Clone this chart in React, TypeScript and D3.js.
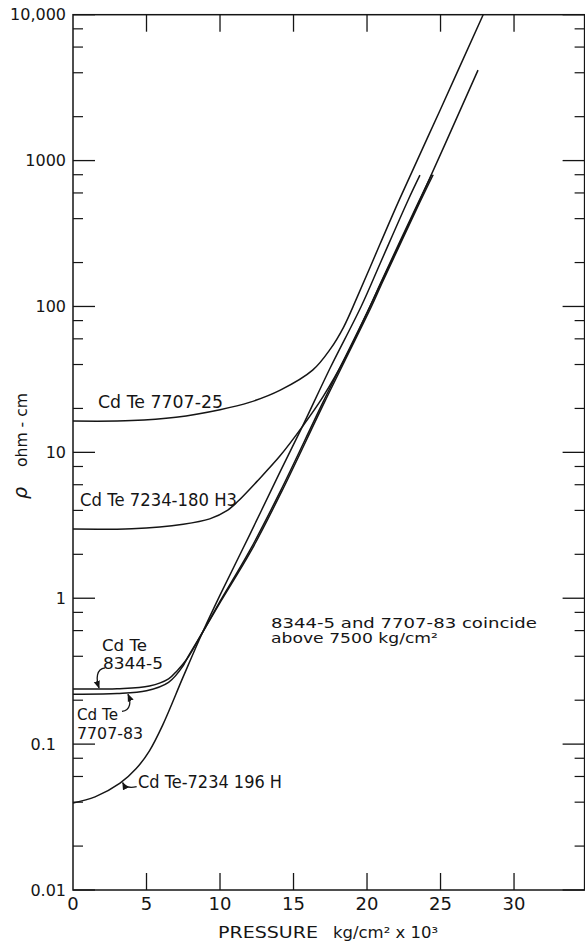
import React from "react";
import * as d3 from "d3";

// ---- axis ticks ----
const xTickValues = [0, 5, 10, 15, 20, 25, 30];
const xTickLabels = ["0", "5", "10", "15", "20", "25", "30"];
const yDecadeValues = [0.01, 0.1, 1, 10, 100, 1000, 10000];
const yTickLabels = ["0.01", "0.1", "1", "10", "100", "1000", "10,000"];
const yMinorMultipliers = [2, 4, 6, 8];

// ---- series (pressure kg/cm^2 x 10^3, resistivity ohm-cm) ----
const pressure7707_25 = [0, 4, 7, 10, 12, 14.1, 16.3, 17.5, 18.4, 19.3, 20.9, 22.2, 25, 27.9];
const rho7707_25 = [16.4, 16.5, 17.4, 19.6, 22, 26.7, 36.6, 51, 72, 114, 270, 540, 2250, 10000];

const pressure7234_180H3 = [0, 4, 7.5, 9.3, 10.5, 11.2, 12.5, 14.1, 15.6, 17, 18.6, 20.2, 20.9, 23.6, 27.55];
const rho7234_180H3 = [2.98, 3.0, 3.22, 3.5, 4.0, 4.6, 6.3, 9.5, 15, 24, 46, 100, 141, 537, 4170];

const pressure7234_196H = [0, 1.5, 3.2, 4.3, 5.2, 6.1, 7.5, 8.8, 10, 12, 14.1, 15.6, 17.5, 19.6, 20.9, 22.8, 23.6];
const rho7234_196H = [0.0395, 0.0435, 0.054, 0.068, 0.09, 0.135, 0.29, 0.58, 1.05, 2.7, 7.4, 15, 38, 100, 198, 537, 794];

const pressure8344_5 = [0, 3, 5.2, 6.5, 7.1, 7.7, 8.8, 10, 12, 14.1, 17, 20.2, 20.9, 23.5, 24.4];
const rho8344_5 = [0.239, 0.24, 0.25, 0.28, 0.32, 0.377, 0.58, 0.95, 2.1, 5.4, 22, 100, 143, 520, 800];

const pressure7707_83 = [0, 3, 5, 6.5, 7.5, 7.7, 8.8, 10.05, 12.1, 14.2, 17.1, 20.3, 21.0, 23.6, 24.5];
const rho7707_83 = [0.22, 0.222, 0.232, 0.265, 0.345, 0.377, 0.58, 0.95, 2.1, 5.4, 22, 100, 143, 520, 800];

const seriesList = [
  { p: pressure7707_25, r: rho7707_25 },
  { p: pressure7234_180H3, r: rho7234_180H3 },
  { p: pressure7234_196H, r: rho7234_196H },
  { p: pressure8344_5, r: rho8344_5 },
  { p: pressure7707_83, r: rho7707_83 },
];

const FONT = "'DejaVu Sans', sans-serif";
const INK = "#151515";

export default function App() {
  const x = d3.scaleLinear().domain([0, 34.8]).range([73, 584.6]);
  const y = d3.scaleLog().domain([0.01, 10000]).range([890, 14.7]);
  const [x0, x1] = x.range();
  const [y0, y1] = y.range();

  const line = d3
    .line<[number, number]>()
    .x((d) => x(d[0]))
    .y((d) => y(d[1]))
    .curve(d3.curveCatmullRom.alpha(0.5));

  const minorValues: number[] = [];
  yDecadeValues.slice(0, -1).forEach((d) =>
    yMinorMultipliers.forEach((m) => minorValues.push(d * m))
  );

  // annotation arrow tips (in data coords)
  const tip8344 = [x(1.77), y(0.239)];
  const tip7707_83 = [x(3.74), y(0.223)];
  const tip196 = [x(3.31), y(0.0553)];

  return (
    <svg
      width={585}
      height={943}
      style={{ position: "absolute", left: 0, top: 0, background: "#fff" }}
      fontFamily={FONT}
    >
      <defs>
        <marker id="ah" viewBox="0 0 10 10" refX="9" refY="5" markerWidth="6" markerHeight="6" orient="auto">
          <path d="M0,1 L10,5 L0,9 z" fill={INK} />
        </marker>
      </defs>
      <rect x={0} y={0} width={585} height={943} fill="#fff" />

      {/* frame */}
      <rect x={x0} y={y1} width={x1 - x0} height={y0 - y1} fill="none" stroke={INK} strokeWidth={1.5} />

      {/* x ticks top & bottom */}
      {xTickValues.filter((v) => v > 0).map((v) => (
        <g key={"xt" + v} stroke={INK} strokeWidth={1.3}>
          <line x1={x(v)} x2={x(v)} y1={y0} y2={y0 - 17} />
          <line x1={x(v)} x2={x(v)} y1={y1} y2={y1 + 17} />
        </g>
      ))}
      {xTickValues.map((v, i) => (
        <text key={"xl" + v} x={x(v)} y={y0 + 20} fontSize={18} textAnchor="middle" fill={INK}>
          {xTickLabels[i]}
        </text>
      ))}

      {/* y ticks left & right */}
      {yDecadeValues.map((v) => (
        <g key={"yd" + v} stroke={INK} strokeWidth={1.3}>
          <line x1={x0} x2={x0 + 22} y1={y(v)} y2={y(v)} />
          <line x1={x1} x2={x1 - 22} y1={y(v)} y2={y(v)} />
        </g>
      ))}
      {minorValues.map((v) => (
        <g key={"ym" + v} stroke={INK} strokeWidth={1.2}>
          <line x1={x0} x2={x0 + 10} y1={y(v)} y2={y(v)} />
          <line x1={x1} x2={x1 - 10} y1={y(v)} y2={y(v)} />
        </g>
      ))}
      {yDecadeValues.map((v, i) => (
        <text
          key={"yl" + v}
          x={x0 - (v === 0.1 ? 17 : 7)}
          y={y(v)}
          dy="0.36em"
          fontSize={16}
          textAnchor="end"
          fill={INK}
        >
          {yTickLabels[i]}
        </text>
      ))}

      {/* axis titles */}
      <text x={218} y={938} fontSize={16} fill={INK} textLength={100} lengthAdjust="spacingAndGlyphs">
        PRESSURE
      </text>
      <text x={333} y={938} fontSize={16} fill={INK} textLength={105} lengthAdjust="spacingAndGlyphs" style={{ whiteSpace: "pre" }}>
        kg/cm² x 10³
      </text>

      <g transform="translate(27,493) rotate(-90)">
        <text x={0} y={0} fontSize={19} fontStyle="italic" textAnchor="middle" fill={INK}>ρ</text>
      </g>
      <g transform="translate(27,467) rotate(-90)">
        <text x={0} y={0} fontSize={16} fill={INK} textLength={74} lengthAdjust="spacingAndGlyphs" style={{ whiteSpace: "pre" }}>
          ohm - cm
        </text>
      </g>

      {/* curves */}
      <g fill="none" stroke={INK} strokeWidth={1.5}>
        {seriesList.map((s, i) => (
          <path key={"s" + i} d={line(s.p.map((p, j) => [p, s.r[j]] as [number, number])) || ""} />
        ))}
      </g>

      {/* curve labels */}
      <g fontSize={17} fill={INK} style={{ whiteSpace: "pre" }}>
        <text x={98} y={408} textLength={125} lengthAdjust="spacingAndGlyphs">Cd Te 7707-25</text>
        <text x={80} y={506} textLength={157} lengthAdjust="spacingAndGlyphs">Cd Te 7234-180 H3</text>
        <text x={138} y={788} textLength={144} lengthAdjust="spacingAndGlyphs">Cd Te-7234  196 H</text>
      </g>
      <g fontSize={15} fill={INK}>
        <text x={102} y={651} textLength={45} lengthAdjust="spacingAndGlyphs">Cd Te</text>
        <text x={103} y={669} textLength={60} lengthAdjust="spacingAndGlyphs">8344-5</text>
        <text x={77} y={720} textLength={41} lengthAdjust="spacingAndGlyphs">Cd Te</text>
        <text x={77} y={739} textLength={66} lengthAdjust="spacingAndGlyphs">7707-83</text>
      </g>
      <g fontSize={13.5} fill={INK}>
        <text x={271} y={628} textLength={266} lengthAdjust="spacingAndGlyphs">8344-5 and 7707-83 coincide</text>
        <text x={271} y={643} textLength={167} lengthAdjust="spacingAndGlyphs">above 7500 kg/cm²</text>
      </g>

      {/* annotation arrows */}
      <g fill="none" stroke={INK} strokeWidth={1.3} markerEnd="url(#ah)">
        <path d={`M${tip8344[0] + 6},${tip8344[1] - 21} C${tip8344[0] - 3},${tip8344[1] - 20} ${tip8344[0] - 3},${tip8344[1] - 10} ${tip8344[0]},${tip8344[1] - 1}`} />
        <path d={`M${tip7707_83[0] - 6},${tip7707_83[1] + 18} C${tip7707_83[0] + 3},${tip7707_83[1] + 17} ${tip7707_83[0] + 3},${tip7707_83[1] + 8} ${tip7707_83[0]},${tip7707_83[1] + 1}`} />
        <path d={`M${tip196[0] + 15},${tip196[1] + 5} C${tip196[0] + 7},${tip196[1] + 7} ${tip196[0] + 3},${tip196[1] + 5} ${tip196[0] + 1},${tip196[1] + 1}`} />
      </g>
    </svg>
  );
}
